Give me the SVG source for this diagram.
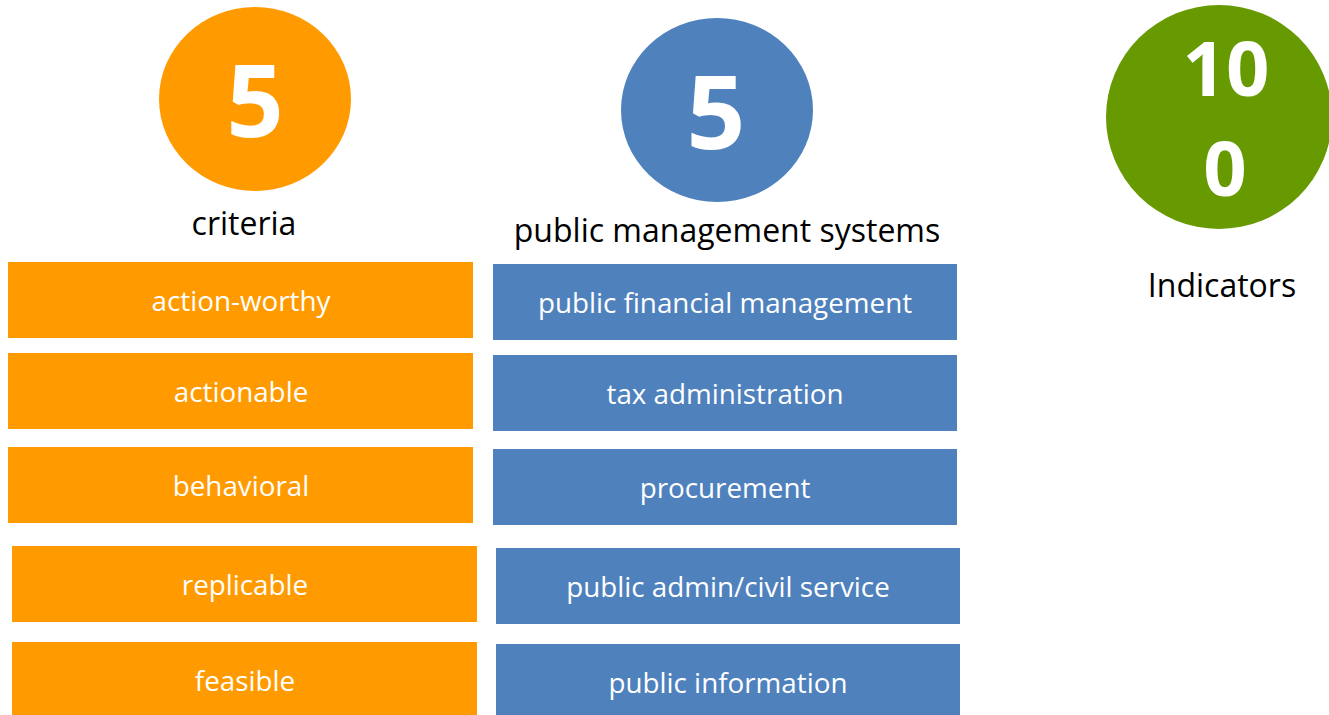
<svg xmlns="http://www.w3.org/2000/svg" width="1329" height="715" viewBox="0 0 1329 715">
<style>
.num{font-family:"Open Sans","Liberation Sans",sans-serif;font-weight:bold;fill:#fff;text-anchor:middle}
.lbl{font-family:"Open Sans","Liberation Sans",sans-serif;font-size:32px;fill:#000;text-anchor:middle}
.bt{font-family:"Open Sans","Liberation Sans",sans-serif;font-size:27.8px;fill:#fff;text-anchor:middle}
.o{fill:#FF9B00}
.b{fill:#4F81BD}
.g{fill:#669A00}
</style>
<rect width="1329" height="715" fill="#fff"/>
<g id="criteria-circle">
<ellipse class="o" cx="255" cy="99" rx="96" ry="92"/>
<text class="num" x="255" y="137" font-size="100">5</text>
<text class="lbl" x="244" y="235">criteria</text>
</g>
<g id="systems-circle">
<ellipse class="b" cx="717" cy="110" rx="96" ry="92"/>
<text class="num" x="716" y="149" font-size="103">5</text>
<text class="lbl" x="727" y="242">public management systems</text>
</g>
<g id="indicators-circle">
<ellipse class="g" cx="1219" cy="117" rx="113" ry="112"/>
<text class="num" x="1226" y="96" font-size="76">10</text>
<text class="num" x="1225" y="196" font-size="76">0</text>
<text class="lbl" x="1222" y="297">Indicators</text>
</g>
<g id="c1"><rect class="o" x="8" y="262" width="465" height="76"/><text class="bt" x="241" y="311">action-worthy</text></g>
<g id="c2"><rect class="o" x="8" y="353" width="465" height="76"/><text class="bt" x="241" y="402">actionable</text></g>
<g id="c3"><rect class="o" x="8" y="447" width="465" height="76"/><text class="bt" x="241" y="496">behavioral</text></g>
<g id="c4"><rect class="o" x="12" y="546" width="465" height="76"/><text class="bt" x="245" y="595">replicable</text></g>
<g id="c5"><rect class="o" x="12" y="642" width="465" height="76"/><text class="bt" x="245" y="691">feasible</text></g>
<g id="s1"><rect class="b" x="493" y="264" width="464" height="76"/><text class="bt" x="725" y="313">public financial management</text></g>
<g id="s2"><rect class="b" x="493" y="355" width="464" height="76"/><text class="bt" x="725" y="404">tax administration</text></g>
<g id="s3"><rect class="b" x="493" y="449" width="464" height="76"/><text class="bt" x="725" y="498">procurement</text></g>
<g id="s4"><rect class="b" x="496" y="548" width="464" height="76"/><text class="bt" x="728" y="597">public admin/civil service</text></g>
<g id="s5"><rect class="b" x="496" y="644" width="464" height="76"/><text class="bt" x="728" y="693">public information</text></g>
<g id="connectors"/>
</svg>
